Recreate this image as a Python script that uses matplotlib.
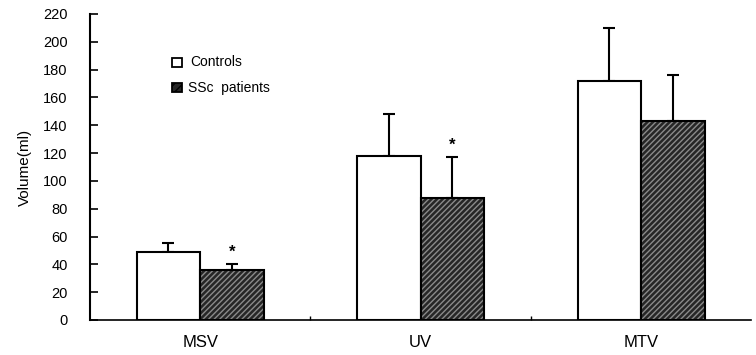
import numpy as np
import matplotlib
matplotlib.use("Agg")
import matplotlib.pyplot as plt

plt.rcParams['font.family'] = ['Liberation Sans', 'DejaVu Sans']

# values
groups = ['MSV', 'UV', 'MTV']
controls = [48.7, 118, 171.8]
controls_err = [7, 30, 38]
patients = [36, 87.5, 143]
patients_err = [4, 30, 33]
signif = [True, True, False]

fig = plt.figure(figsize=(7.56, 3.55), dpi=100)
ax = fig.add_axes([0.119, 0.0986, 0.875, 0.862])

x = np.arange(len(groups))
w = 0.288

ax.bar(x - w/2, controls, w, color='white', edgecolor='black', linewidth=1.5, zorder=2)
ax.errorbar(x - w/2, controls, yerr=[np.zeros(3), controls_err], fmt='none',
            ecolor='black', elinewidth=1.5, capsize=4.5, capthick=1.5, zorder=1)

# hatched dark bars: fill + hatch layer, then outline on top
ax.bar(x + w/2, patients, w, color='#262626', edgecolor='#8a8a8a', hatch='//////',
       linewidth=0, zorder=2)
ax.bar(x + w/2, patients, w, fill=False, edgecolor='black', linewidth=1.5, zorder=3)
ax.errorbar(x + w/2, patients, yerr=[np.zeros(3), patients_err], fmt='none',
            ecolor='black', elinewidth=1.5, capsize=4.5, capthick=1.5, zorder=1)

for i in range(len(groups)):
    if signif[i]:
        ax.text(x[i] + w/2, patients[i] + patients_err[i] + 3, '*', ha='center',
                va='bottom', fontsize=12, fontweight='bold')

ax.set_xlim(-0.5, 2.5)
ax.set_ylim(0, 220)
ax.set_yticks(np.arange(0, 221, 20))
ax.tick_params(axis='y', direction='in', length=6, width=1.2, labelsize=10.5, pad=16)
ax.set_xticks(x)
ax.set_xticklabels(groups)
ax.tick_params(axis='x', length=0, labelsize=12, pad=11)
ax.set_xticks([0.5, 1.5], minor=True)
ax.tick_params(axis='x', which='minor', direction='in', length=3, width=1)
ax.set_ylabel('Volume(ml)', fontsize=11, labelpad=8)

ax.spines['top'].set_visible(False)
ax.spines['right'].set_visible(False)
ax.spines['left'].set_linewidth(1.5)
ax.spines['bottom'].set_linewidth(1.2)

# legend drawn by hand like the original
fig.patches.append(plt.Rectangle((172/756, 1 - 67/355), 10/756, 9/355, transform=fig.transFigure,
                                 facecolor='white', edgecolor='black', linewidth=1.3))
fig.patches.append(plt.Rectangle((172/756, 1 - 92/355), 10/756, 9/355, transform=fig.transFigure,
                                 facecolor='#262626', edgecolor='black', linewidth=1.3, hatch='////'))
fig.text(190/756, 1 - 62/355, 'Controls', fontsize=10, va='center')
fig.text(188/756, 1 - 88/355, 'SSc  patients', fontsize=10, va='center')

fig.savefig('out.png', dpi=100)
